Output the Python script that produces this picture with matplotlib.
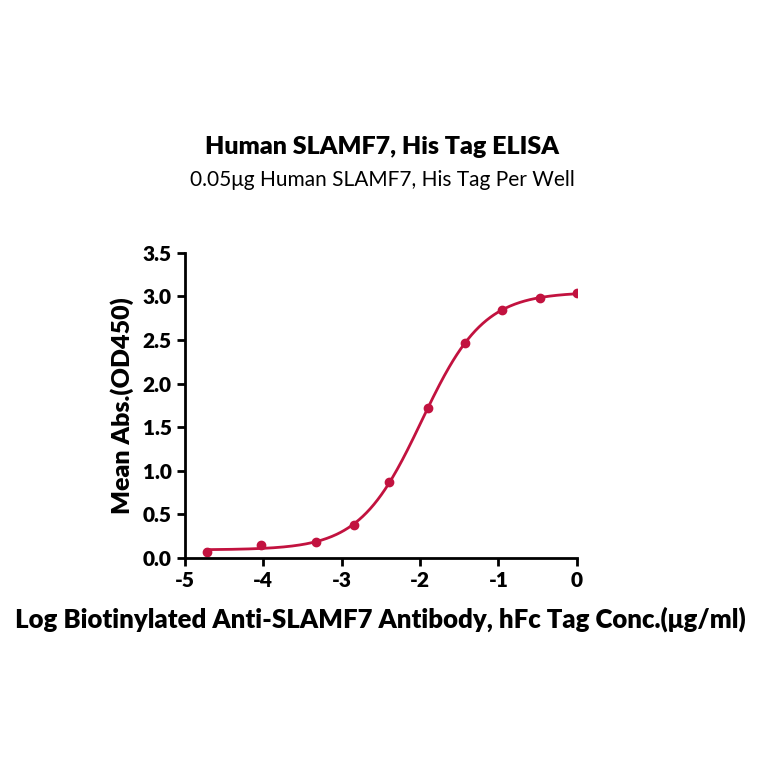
import numpy as np
import matplotlib
matplotlib.use("Agg")
import matplotlib.pyplot as plt

x = np.array([-4.72, -4.03, -3.33, -2.84, -2.39, -1.90, -1.43, -0.96, -0.47, 0.0])
y = np.array([0.07, 0.15, 0.18, 0.38, 0.87, 1.72, 2.46, 2.84, 2.98, 3.04])
xticks = [-5, -4, -3, -2, -1, 0]
yticks = [0.0, 0.5, 1.0, 1.5, 2.0, 2.5, 3.0, 3.5]

def f(xx, b, t, c, h):
    return b + (t - b) / (1 + 10 ** ((c - xx) * h))

best = None
for b in np.linspace(0.0, 0.15, 16):
    for t in np.linspace(2.95, 3.2, 26):
        for c in np.linspace(-2.2, -1.8, 41):
            for h in np.linspace(0.8, 1.4, 31):
                e = np.sum((f(x, b, t, c, h) - y) ** 2)
                if best is None or e < best[0]:
                    best = (e, b, t, c, h)
_, b, t, c, h = best

col = "#C2123F"
plt.rcParams['font.family'] = ['Lato', 'DejaVu Sans']
fig = plt.figure(figsize=(7.64, 7.64), dpi=100)
ax = fig.add_axes([0.242, 0.270, 0.513, 0.399])
xs = np.linspace(-4.72, 0, 300)
ax.plot(xs, f(xs, b, t, c, h), color=col, lw=2)
ax.plot(x, y, 'o', color=col, ms=6)
ax.set_xlim(-5, 0)
ax.set_ylim(0, 3.5)
ax.set_xticks(xticks)
ax.set_xticklabels([str(v) for v in xticks])
ax.set_yticks(yticks)
ax.set_yticklabels([f"{v:.1f}" for v in yticks])
for s in ['top', 'right']:
    ax.spines[s].set_visible(False)
for s in ['left', 'bottom']:
    ax.spines[s].set_linewidth(2)
ax.tick_params(width=2, length=6, labelsize=15)
for lab in ax.get_xticklabels() + ax.get_yticklabels():
    lab.set_fontweight('heavy')
ax.set_ylabel("Mean Abs.(OD450)", fontsize=18, fontweight='heavy', labelpad=6)
ax.set_xlabel("Log Biotinylated Anti-SLAMF7 Antibody, hFc Tag Conc.(μg/ml)", fontsize=18.5, fontweight='heavy', labelpad=12)
fig.text(0.5, 0.798, "Human SLAMF7, His Tag ELISA", ha='center', fontsize=18, fontweight='heavy')
fig.text(0.5, 0.757, "0.05μg Human SLAMF7, His Tag Per Well", ha='center', fontsize=15)
fig.savefig("out.png", dpi=100)
